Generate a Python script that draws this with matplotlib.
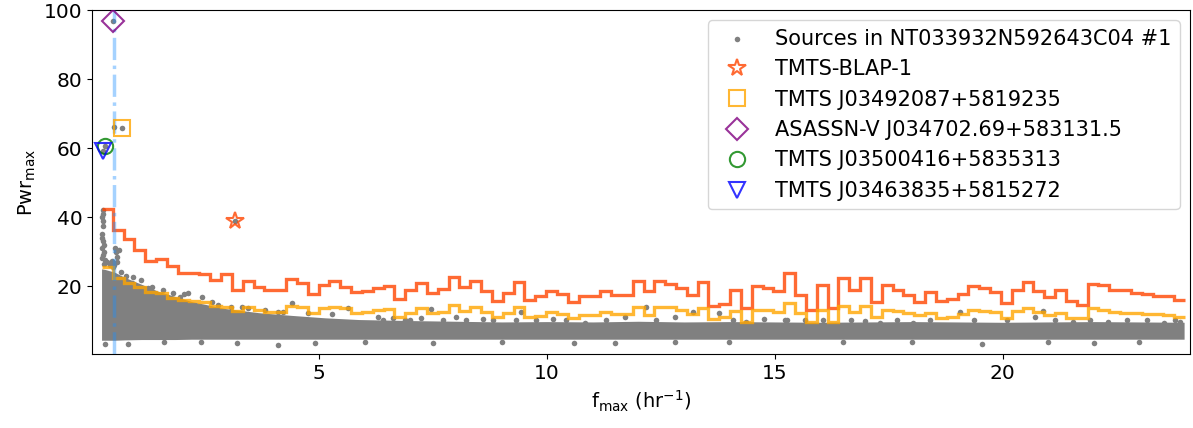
import numpy as np
import matplotlib
matplotlib.use("Agg")
import matplotlib.pyplot as plt

# ---- periodogram thresholds per frequency bin -------------------------------
F_LO, F_HI, N_BINS = 0.23, 24.0, 100
thr_red = [
    42.3, 36.2, 33.5, 30.4, 27.2, 27.8, 25.9, 23.9, 23.8, 23.4,
    21.9, 23.5, 19.0, 21.4, 19.6, 18.8, 19.0, 22.1, 20.8, 17.6,
    20.2, 21.4, 19.6, 18.3, 18.5, 19.3, 20.1, 16.2, 19.0, 20.8,
    17.9, 19.1, 22.7, 19.6, 21.6, 18.6, 15.7, 18.1, 21.1, 16.1,
    17.0, 18.6, 17.6, 15.5, 17.0, 17.2, 18.6, 17.4, 17.5, 21.5,
    18.6, 21.5, 20.6, 19.3, 17.4, 21.1, 14.2, 14.7, 19.0, 13.5,
    20.0, 19.5, 18.6, 23.7, 17.4, 13.2, 20.3, 13.5, 22.2, 19.0,
    22.2, 15.5, 20.3, 19.0, 17.4, 15.3, 18.2, 15.7, 16.2, 17.7,
    20.0, 19.3, 18.4, 15.2, 19.0, 21.1, 18.6, 16.9, 18.8, 15.6,
    14.5, 20.6, 20.2, 19.0, 18.8, 17.9, 17.6, 17.2, 17.2, 16.0,
]
thr_orange = [
    25.6, 22.4, 21.0, 19.6, 18.4, 17.9, 16.6, 16.0, 15.7, 15.4,
    14.3, 14.0, 12.8, 14.0, 13.0, 12.6, 12.6, 14.3, 13.8, 12.3,
    13.5, 13.8, 13.5, 12.3, 12.4, 13.0, 13.3, 11.1, 12.3, 13.7,
    12.1, 12.6, 14.5, 12.8, 14.0, 12.4, 10.9, 12.1, 13.8, 11.1,
    11.4, 12.5, 11.9, 10.6, 11.5, 11.6, 12.4, 11.8, 11.9, 13.8,
    11.6, 14.0, 13.8, 13.0, 11.8, 13.5, 10.4, 11.1, 12.9, 9.7,
    13.2, 13.0, 12.6, 15.0, 12.1, 9.5, 13.2, 9.7, 14.2, 12.6,
    14.2, 10.9, 13.2, 12.8, 12.1, 11.6, 12.1, 10.6, 11.1, 11.8,
    13.0, 12.8, 12.4, 10.6, 12.8, 13.7, 12.4, 11.6, 12.3, 10.8,
    10.6, 13.5, 13.0, 12.4, 12.3, 12.1, 11.9, 11.8, 11.6, 11.1,
]

# ---- dense body of the source cloud (lower / upper envelope) ----------------
env_f = [0.22, 0.30, 0.51, 0.73, 1.10, 1.46, 1.83, 2.20, 2.93, 3.66, 4.39,
         5.12, 5.86, 7.0, 8.0, 9.0, 10.0, 11.0, 12.0, 13.0, 14.0, 15.0,
         16.0, 17.0, 18.0, 19.0, 20.0, 21.0, 22.0, 23.0, 23.98]
env_lo = [4.3, 4.3, 4.3, 4.4, 4.5, 4.5, 4.5, 4.6, 4.6, 4.6, 4.6,
          4.6, 4.6, 4.6, 4.6, 4.6, 4.6, 4.6, 4.6, 4.6, 4.6, 4.6,
          4.6, 4.6, 4.6, 4.6, 4.6, 4.6, 4.6, 4.6, 4.6]
env_hi = [25.0, 24.8, 24.0, 22.5, 20.5, 18.5, 17.0, 15.5, 13.5, 12.3, 11.5,
          10.8, 10.3, 10.0, 9.8, 9.6, 9.7, 9.6, 9.8, 9.6, 9.7, 9.6,
          9.5, 9.6, 9.7, 9.6, 9.5, 9.6, 9.7, 9.6, 9.5]

# ---- individual sources outside the dense body ------------------------------
src_f = [
    # low-frequency column above the body
    0.25, 0.26, 0.24, 0.25, 0.26, 0.24, 0.23, 0.25, 0.27, 0.24,
    0.28, 0.26, 0.23, 0.30, 0.27, 0.34, 0.40, 0.44, 0.52, 0.53,
    0.55, 0.57, 0.61, 0.50, 0.47, 0.65, 0.75, 0.90, 1.09, 1.25,
    # fuzz between the body and the orange threshold (f < 7)
    0.88, 0.77, 1.32, 1.57, 1.79, 2.12, 2.42, 1.94, 2.64, 2.78,
    3.07, 3.44, 3.81, 4.39, 4.10, 4.76, 5.27, 5.64, 6.28, 6.88,
    1.46, 2.04, 3.30, 4.20, 1.53,
    # upper edge of the body (f > 6)
    6.39, 6.61, 6.98, 7.24, 7.45, 7.71, 7.99, 8.22, 8.59, 8.81,
    9.31, 9.43, 9.76, 10.13, 10.42, 10.82, 11.30, 11.70, 12.16, 12.40,
    12.81, 13.20, 13.77, 14.08, 14.37, 14.75, 15.21, 15.26, 15.66, 16.06,
    16.66, 16.98, 17.31, 17.67, 18.04, 18.40, 19.06, 19.36, 20.09, 20.71,
    20.89, 21.15, 21.55, 21.92, 22.32, 22.72, 23.16, 23.53, 23.79, 23.90,
    # lower edge of the body
    0.30, 0.80, 1.60, 2.40, 3.20, 4.10, 4.90, 6.00, 7.50, 9.00,
    10.60, 11.50, 12.80, 14.00, 16.50, 18.00, 19.55, 21.00, 22.00, 23.00,
    # dots under the highlighted objects
    0.48, 0.67, 0.49, 0.29, 0.26, 3.16,
]
src_pwr = [
    42.0, 41.0, 40.0, 39.0, 37.5, 35.0, 34.0, 33.0, 32.0, 31.0,
    30.0, 29.0, 28.0, 27.5, 26.5, 27.0, 26.0, 27.2, 31.0, 29.8,
    28.5, 27.0, 30.5, 26.0, 25.5, 24.0, 23.0, 22.5, 21.9, 19.5,
    20.8, 20.3, 19.8, 18.8, 17.9, 17.9, 16.7, 16.9, 15.5, 14.5,
    14.0, 13.5, 13.0, 15.0, 12.6, 12.3, 11.9, 13.5, 10.9, 10.2,
    17.5, 17.7, 13.8, 12.5, 16.4,
    10.1, 10.6, 10.3, 10.8, 13.4, 10.1, 10.9, 10.3, 10.5, 10.1,
    10.3, 12.6, 10.1, 10.4, 10.1, 9.2, 10.1, 11.1, 13.8, 10.1,
    11.1, 12.6, 12.1, 10.1, 9.7, 10.4, 10.1, 10.1, 10.3, 10.1,
    10.3, 9.9, 9.2, 10.1, 9.2, 10.1, 12.6, 10.3, 10.3, 10.9,
    12.8, 10.1, 9.7, 10.1, 9.7, 10.1, 10.1, 9.2, 10.1, 9.7,
    3.3, 3.2, 3.7, 3.9, 3.5, 2.9, 3.4, 3.8, 3.6, 3.9,
    3.6, 3.5, 3.9, 3.8, 3.7, 3.9, 3.2, 3.8, 3.4, 3.7,
    96.9, 65.9, 66.0, 60.7, 59.2, 38.9,
]

# ---- highlighted objects ------------------------------------------------------
obj_names = ["TMTS-BLAP-1", "TMTS J03492087+5819235",
             "ASASSN-V J034702.69+583131.5", "TMTS J03500416+5835313",
             "TMTS J03463835+5815272"]
obj_f = [3.16, 0.67, 0.48, 0.29, 0.26]
obj_pwr = [38.9, 65.9, 96.9, 60.7, 59.2]
obj_marker = ["*", "s", "D", "o", "v"]
obj_color = ["orangered", "orange", "purple", "green", "blue"]
obj_size = [13, 11, 11, 11, 11]

F_MARK = 0.50

fig, ax = plt.subplots(figsize=(11.93, 4.28), dpi=100)
fig.subplots_adjust(left=0.0771, right=0.9975, bottom=0.172, top=0.9766)

ax.fill_between(env_f, env_lo, env_hi, color="grey", lw=0, zorder=1)
ax.scatter(src_f, src_pwr, s=16, color="grey", lw=0, zorder=1,
           label="Sources in NT033932N592643C04 #1")

edges = np.linspace(F_LO, F_HI, N_BINS + 1)
ax.stairs(thr_red, edges, baseline=None, color="orangered", alpha=0.8,
          lw=2.4, zorder=2)
ax.stairs(thr_orange, edges, baseline=None, color="orange", alpha=0.8,
          lw=2.4, zorder=2)

ax.axvline(F_MARK, color="dodgerblue", alpha=0.4, ls="-.", lw=2.5, zorder=3)

for name, f, p, m, c, ms in zip(obj_names, obj_f, obj_pwr, obj_marker,
                                obj_color, obj_size):
    ax.plot(f, p, ls="none", marker=m, ms=ms, mfc="none", mec=c, mew=1.5,
            alpha=0.8, label=name, zorder=4)

ax.set_xlim(0.01, 24.11)
ax.set_ylim(0.2, 100)
ax.set_xticks([5, 10, 15, 20])
ax.tick_params(labelsize=14.5)
ax.set_xlabel(r"f$_{\rm max}$ (hr$^{-1}$)", fontsize=14)
ax.set_ylabel(r"Pwr$_{\rm max}$", fontsize=14)
ax.legend(loc="upper right", fontsize=15)

fig.savefig("out.png", dpi=100)
